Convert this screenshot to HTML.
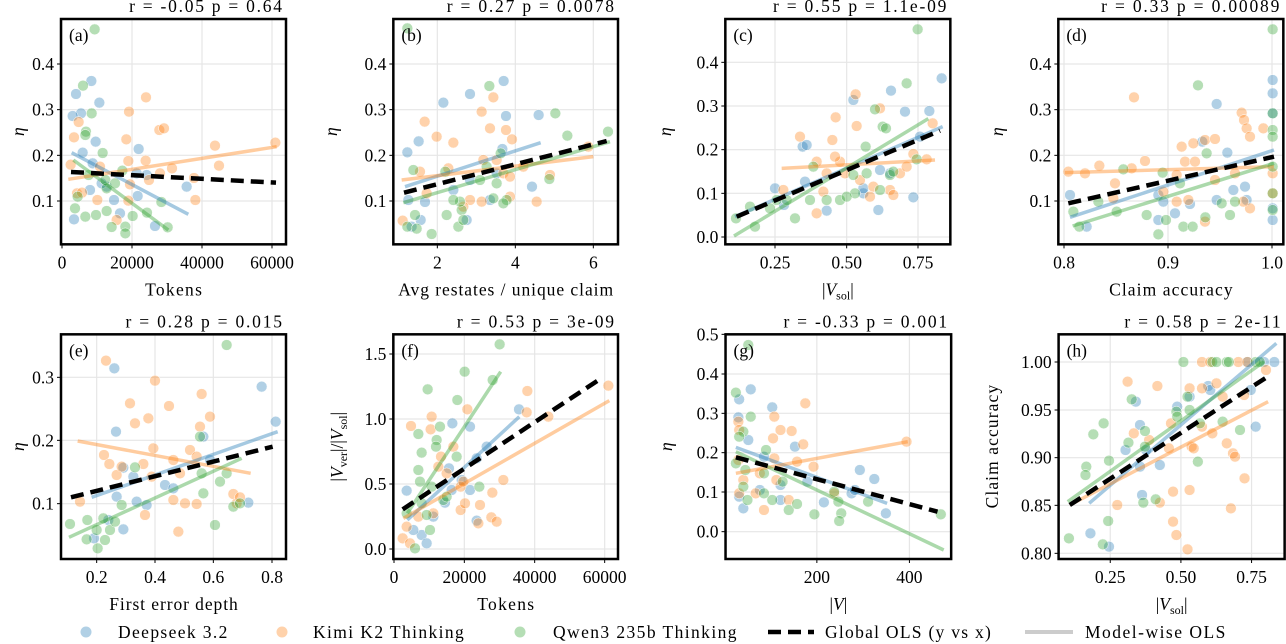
<!DOCTYPE html>
<html><head><meta charset="utf-8"><style>
html,body{margin:0;padding:0;background:#fff}
svg{display:block;font-family:"Liberation Serif",serif}
</style></head><body>
<svg id="s" width="1286" height="644" viewBox="0 0 1286 644" xmlns="http://www.w3.org/2000/svg"></svg>
<script>
const C={b:'#1f77b4',o:'#ff7f0e',g:'#2ca02c'};
const svg=document.getElementById('s');let out='';
const FS=17.5;
function panel(p){
 const sx=p.sx||3,sy=p.sy||3;
 const X=z=>p.ox+z/sx, Y=z=>p.oy+z/sy;
 const x0=X(p.f[0]),y0=Y(p.f[1]),x1=X(p.f[2]),y1=Y(p.f[3]);
 const id='c'+p.l;
 out+=`<clipPath id="${id}"><rect x="${x0}" y="${y0}" width="${x1-x0}" height="${y1-y0}"/></clipPath>`;
 p.xt.forEach(t=>{const x=X(t[0]);out+=`<line x1="${x}" y1="${y0}" x2="${x}" y2="${y1}" stroke="#e6e6e6" stroke-width="1.2"/><line x1="${x}" y1="${y1}" x2="${x}" y2="${y1+4}" stroke="#000" stroke-width="1"/><text x="${x}" y="${y1+24}" font-size="${FS}" text-anchor="middle">${t[1]}</text>`;});
 p.yt.forEach(t=>{const y=Y(t[0]);out+=`<line x1="${x0}" y1="${y}" x2="${x1}" y2="${y}" stroke="#e6e6e6" stroke-width="1.2"/><line x1="${x0-4}" y1="${y}" x2="${x0}" y2="${y}" stroke="#000" stroke-width="1"/><text x="${x0-7}" y="${y+6}" font-size="${FS}" text-anchor="end">${t[1]}</text>`;});
 out+=`<g clip-path="url(#${id})">`;
 for(const k of ['b','o','g']){(p.pts[k]||[]).forEach(q=>{out+=`<circle cx="${X(q[0])}" cy="${Y(q[1])}" r="5.4" fill="${C[k]}" fill-opacity="0.35" stroke="#fff" stroke-width="0.5"/>`;});}
 for(const k of ['b','o','g']){const L=p.ln[k];out+=`<line x1="${X(L[0])}" y1="${Y(L[1])}" x2="${X(L[2])}" y2="${Y(L[3])}" stroke="${C[k]}" stroke-opacity="0.4" stroke-width="3.5"/>`;}
 const G=p.ln.k;out+=`<line x1="${X(G[0])}" y1="${Y(G[1])}" x2="${X(G[2])}" y2="${Y(G[3])}" stroke="#000" stroke-width="4.5" stroke-dasharray="13 7"/>`;
 out+=`</g><rect x="${x0}" y="${y0}" width="${x1-x0}" height="${y1-y0}" fill="none" stroke="#000" stroke-width="2.5"/>`;
 out+=`<text x="${x0+8}" y="${y0+22}" font-size="${FS}">(${p.l})</text>`;
 out+=`<text class="w124" x="${x1-4}" y="${y0-7}" font-size="${FS}" text-anchor="end">${p.t}</text>`;
 out+=`<text class="w115" x="${(x0+x1)/2}" y="${y1+51}" font-size="${FS}" text-anchor="middle">${p.xl}</text>`;
 const yc=(y0+y1)/2;out+=`<text class="w115" transform="translate(${p.ylx},${yc}) rotate(-90)" font-size="${FS}" text-anchor="middle">${p.yl}</text>`;
}
const eta='<tspan font-style="italic">η</tspan>';
const vsol='|<tspan font-style="italic">V</tspan><tspan font-size="12" dy="4">sol</tspan><tspan dy="-4">|</tspan>';
const ytA=[[192,'0.4'],[329,'0.3'],[466,'0.2'],[603,'0.1']];
panel({l:'a',ox:0,oy:0,f:[183,57,858,733],t:'r = -0.05 p = 0.64',xl:'Tokens',yl:eta,ylx:24,
 xt:[[186,'0'],[396,'20000'],[606,'40000'],[816,'60000']],yt:ytA,
 pts:{b:[[228,282],[274,243],[298,308],[243,340],[218,348],[287,425],[248,458],[416,447],[278,490],[222,658],[465,678],[560,560],[413,588],[342,600],[360,640],[270,570],[320,560],[440,525],[410,520],[305,550]],
 o:[[438,292],[387,335],[478,390],[492,385],[379,418],[222,412],[236,366],[645,437],[657,497],[826,428],[437,482],[385,483],[516,505],[582,534],[586,600],[447,540],[212,494],[231,580],[246,578],[350,660],[385,602],[292,600],[390,553],[300,500],[480,520]],
 g:[[284,88],[249,257],[275,340],[258,395],[256,405],[308,459],[367,512],[316,540],[256,650],[288,645],[320,633],[335,681],[376,680],[376,700],[398,648],[441,638],[484,606],[503,682],[225,625],[233,590],[266,525],[320,565],[345,550]]},
 ln:{o:[205,538,830,440],b:[215,458,565,643],g:[220,480,505,690],k:[213,516,828,548]}});
panel({l:'b',ox:330,oy:0,f:[190,57,864,733],t:'r = 0.27 p = 0.0078',xl:'Avg restates / unique claim',yl:eta,ylx:337,
 xt:[[322,'2'],[556,'4'],[790,'6']],yt:ytA,
 pts:{b:[[232,457],[266,424],[340,308],[420,282],[521,243],[528,348],[626,345],[517,447],[606,560],[235,600],[285,606],[272,660],[245,680],[410,660],[370,570],[420,540],[480,600],[500,520]],
 o:[[284,365],[320,410],[370,428],[455,335],[490,292],[480,385],[528,390],[546,418],[270,515],[290,580],[355,505],[460,480],[500,480],[520,520],[540,530],[580,500],[620,605],[660,525],[775,440],[455,605],[540,590],[420,600],[218,662],[400,620]],
 g:[[232,85],[478,258],[676,340],[712,407],[834,395],[250,510],[346,515],[470,500],[500,550],[530,600],[512,460],[658,537],[232,680],[260,686],[255,645],[305,702],[350,645],[385,680],[395,630],[390,605],[370,600],[450,540],[520,610],[490,595],[400,660]]},
 ln:{b:[225,560,632,428],o:[215,540,790,470],g:[220,608,840,425],k:[222,578,830,423]}});
panel({l:'c',ox:660,oy:0,f:[196,57,871,733],t:'r = 0.55 p = 1.1e-09',xl:vsol,yl:eta,ylx:671,
 xt:[[345,'0.25'],[560,'0.50'],[774,'0.75']],yt:[[187,'0.4'],[318,'0.3'],[449,'0.2'],[580,'0.1'],[711,'0.0']],
 pts:{b:[[845,235],[693,272],[580,300],[735,335],[808,333],[428,440],[440,435],[345,565],[372,615],[435,545],[500,632],[655,630],[610,580],[660,510],[690,520],[760,592],[780,410],[610,565]],
 o:[[587,283],[527,352],[420,410],[517,420],[590,378],[660,325],[818,370],[760,462],[800,478],[540,485],[555,520],[600,540],[640,560],[690,570],[700,585],[720,520],[740,500],[470,485],[500,520],[525,470],[470,640],[490,575],[630,590],[370,570]],
 g:[[773,88],[740,250],[645,328],[668,380],[678,385],[617,440],[770,478],[460,500],[580,525],[585,580],[540,600],[690,525],[660,570],[700,515],[228,655],[270,620],[285,680],[330,625],[350,600],[380,600],[405,655],[450,600],[500,600],[560,590],[620,520]]},
 ln:{g:[222,708,805,356],b:[225,650,848,380],o:[365,505,825,480],k:[230,650,840,392]}});
panel({l:'d',ox:990,oy:0,f:[205,57,880,733],t:'r = 0.33 p = 0.00089',xl:'Claim accuracy',yl:eta,ylx:1003,
 xt:[[222,'0.8'],[534,'0.9'],[846,'1.0']],yt:ytA,
 pts:{b:[[848,240],[848,280],[848,340],[680,312],[637,425],[712,458],[240,585],[290,680],[505,585],[520,605],[555,640],[600,612],[680,600],[730,570],[765,560],[770,600],[848,660],[848,625],[505,660]],
 o:[[432,292],[755,338],[762,360],[770,385],[780,410],[820,385],[235,515],[285,520],[328,497],[425,505],[465,483],[575,440],[610,430],[645,420],[675,417],[585,485],[615,485],[560,525],[520,575],[560,605],[595,600],[645,665],[675,540],[735,520],[780,625],[848,520],[848,580],[760,605],[375,550],[370,595]],
 g:[[848,88],[624,256],[848,340],[848,390],[848,410],[650,460],[400,508],[518,518],[570,550],[250,635],[268,680],[325,605],[380,635],[470,645],[505,703],[528,660],[580,680],[608,680],[646,652],[695,610],[720,645],[735,605],[848,500],[848,580],[848,630]]},
 ln:{b:[240,652,852,450],g:[248,678,852,490],o:[225,518,852,500],k:[235,610,852,470]}});
panel({l:'e',ox:0,oy:300,f:[183,103,858,777],t:'r = 0.28 p = 0.015',xl:'First error depth',yl:eta,ylx:24,
 xt:[[290,'0.2'],[465,'0.4'],[640,'0.6'],[816,'0.8']],yt:[[232,'0.3'],[421,'0.2'],[611,'0.1']],
 pts:{b:[[343,205],[785,260],[827,365],[348,395],[370,503],[400,530],[350,590],[410,605],[440,615],[495,555],[520,565],[610,410],[630,480],[745,608],[325,660],[370,688],[282,715]],
 o:[[318,182],[465,242],[390,310],[605,282],[507,318],[445,355],[405,370],[630,350],[600,380],[460,445],[312,465],[328,492],[350,525],[430,492],[455,530],[520,480],[570,450],[540,520],[590,470],[555,610],[590,612],[520,600],[435,645],[240,605],[535,695],[700,582],[710,610],[720,592],[365,500]],
 g:[[680,135],[405,502],[365,615],[600,410],[605,520],[610,580],[660,545],[680,520],[700,620],[720,610],[645,675],[210,672],[262,660],[260,718],[293,745],[310,655],[315,720],[330,690],[345,665],[290,690]]},
 ln:{o:[233,423,752,520],b:[275,592,833,395],g:[207,712,725,475],k:[213,592,818,440]}});
panel({l:'f',ox:330,oy:300,f:[190,103,864,777],t:'r = 0.53 p = 3e-09',xl:'Tokens',
 yl:'|<tspan font-style="italic">V</tspan><tspan font-size="12" dy="4">ver</tspan><tspan dy="-4">|/|</tspan><tspan font-style="italic">V</tspan><tspan font-size="12" dy="4">sol</tspan><tspan dy="-4">|</tspan>',ylx:343,
 xt:[[192,'0'],[403,'20000'],[614,'40000'],[824,'60000']],yt:[[162,'1.5'],[357,'1.0'],[552,'0.5'],[747,'0.0']],
 pts:{g:[[509,133],[404,215],[293,268],[382,300],[488,240],[265,402],[275,458],[320,420],[330,380],[318,440],[265,510],[270,545],[275,610],[290,645],[300,690],[340,600],[350,590],[448,560],[255,745],[230,640],[305,560],[380,470]],
 b:[[367,370],[420,380],[470,440],[567,328],[440,475],[357,505],[345,608],[365,570],[230,572],[275,705],[290,730],[310,650],[250,690],[440,662],[420,570],[395,540]],
 o:[[592,273],[590,337],[655,350],[835,257],[412,328],[305,350],[243,378],[302,388],[333,470],[370,440],[392,560],[392,630],[405,610],[450,615],[487,578],[520,540],[484,652],[500,665],[445,670],[218,715],[240,730],[230,680],[310,640],[265,650],[325,500],[350,520],[400,545]]},
 ln:{g:[232,640,512,215],b:[232,660,568,350],o:[220,655,838,302],k:[218,628,818,232]}});
panel({l:'g',ox:640,oy:300,sx:2.42,sy:3,f:[207,103,753,777],t:'r = -0.33 p = 0.001',xl:'|<tspan font-style="italic">V</tspan>|',yl:eta,ylx:672,
 xt:[[428,'200'],[652,'400']],yt:[[103,'0.5'],[222,'0.4'],[340,'0.3'],[458,'0.2'],[576,'0.1'],[695,'0.0']],
 pts:{g:[[262,135],[232,278],[268,350],[250,395],[240,410],[305,450],[232,490],[255,510],[300,520],[345,545],[320,600],[360,630],[380,612],[422,643],[470,575],[480,605],[487,640],[482,663],[552,605],[728,643],[260,600],[300,580],[250,560]],
 b:[[268,268],[240,298],[238,352],[320,322],[262,420],[375,440],[405,545],[340,555],[340,600],[445,607],[512,580],[520,570],[532,510],[567,537],[595,640],[250,625],[290,570],[240,590],[300,470]],
 o:[[400,310],[325,350],[340,390],[367,393],[322,415],[395,433],[645,425],[238,365],[240,390],[420,500],[380,485],[325,475],[238,480],[250,540],[290,520],[330,540],[300,630],[360,600],[240,580],[280,580],[470,580]]},
 ln:{g:[232,455,735,750],b:[232,442,598,610],o:[232,520,648,425],k:[232,472,720,635]}});
panel({l:'h',ox:640,oy:300,sx:2.42,sy:3,f:[1013,103,1560,777],t:'r = 0.58 p = 2e-11',xl:vsol,yl:'Claim accuracy',ylx:998,
 xt:[[1138,'0.25'],[1309,'0.50'],[1480,'0.75']],yt:[[186,'1.00'],[330,'0.95'],[473,'0.90'],[616,'0.85'],[760,'0.80']],
 pts:{g:[[1315,186],[1385,186],[1395,186],[1420,186],[1425,186],[1490,186],[1500,186],[1038,715],[1080,500],[1078,525],[1097,403],[1122,370],[1135,482],[1133,663],[1120,733],[1190,298],[1182,428],[1222,393],[1222,440],[1248,598],[1218,608],[1298,335],[1325,290],[1330,330],[1350,485],[1410,365],[1452,390],[1355,370],[1300,350]],
 b:[[1470,186],[1535,186],[1510,186],[1090,700],[1135,740],[1175,450],[1200,305],[1210,375],[1210,500],[1215,585],[1258,495],[1330,290],[1375,258],[1380,270],[1490,380],[1478,270],[1300,320],[1225,450]],
 o:[[1360,186],[1380,186],[1448,186],[1470,186],[1180,245],[1195,400],[1155,615],[1252,258],[1258,608],[1285,370],[1290,575],[1290,665],[1298,705],[1325,748],[1330,570],[1330,265],[1360,265],[1395,250],[1410,290],[1385,400],[1430,625],[1435,460],[1440,470],[1463,535],[1462,285],[1420,430],[1515,210],[1335,440],[1340,445],[1280,445],[1232,420],[1360,380]]},
 ln:{b:[1087,610,1540,130],g:[1035,605,1510,185],o:[1040,615,1520,305],k:[1040,615,1525,225]}});
const LY=632;
out+=`<circle cx="86" cy="${LY}" r="5.5" fill="${C.b}" fill-opacity="0.35"/><text class="w116" x="118" y="${LY+6}" font-size="${FS}">Deepseek 3.2</text>`;
out+=`<circle cx="282" cy="${LY}" r="5.5" fill="${C.o}" fill-opacity="0.35"/><text class="w116" x="313" y="${LY+6}" font-size="${FS}">Kimi K2 Thinking</text>`;
out+=`<circle cx="520" cy="${LY}" r="5.5" fill="${C.g}" fill-opacity="0.35"/><text class="w116" x="553" y="${LY+6}" font-size="${FS}">Qwen3 235b Thinking</text>`;
out+=`<line x1="768" y1="${LY}" x2="814" y2="${LY}" stroke="#000" stroke-width="4.5" stroke-dasharray="13 7"/><text class="w116" x="825" y="${LY+6}" font-size="${FS}">Global OLS (y vs x)</text>`;
out+=`<line x1="1025" y1="${LY}" x2="1073" y2="${LY}" stroke="#ccc" stroke-width="4"/><text class="w116" x="1085" y="${LY+6}" font-size="${FS}">Model-wise OLS</text>`;
svg.innerHTML=out;
[['w124',1.24],['w115',1.13],['w116',1.16]].forEach(([c,f])=>{
 svg.querySelectorAll('text.'+c).forEach(t=>{
  if(t.querySelector('tspan'))return;
  const L=t.getComputedTextLength();
  t.setAttribute('textLength',(L*f).toFixed(1));
  t.setAttribute('lengthAdjust','spacing');
 });
});
</script>
</body></html>
